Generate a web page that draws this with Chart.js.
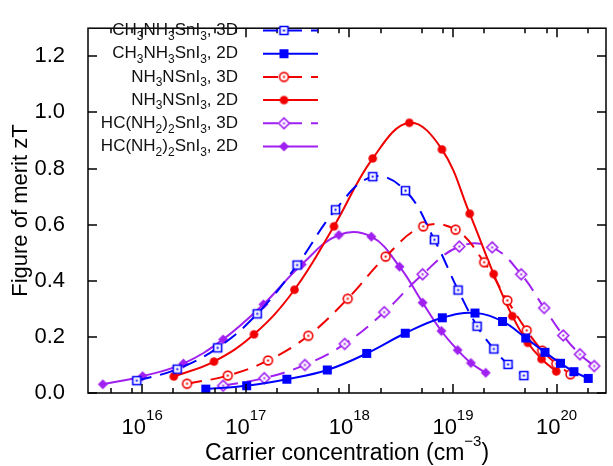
<!DOCTYPE html>
<html>
<head>
<meta charset="utf-8">
<title>zT vs carrier concentration</title>
<script src="https://cdn.jsdelivr.net/npm/chart.js@4.4.1/dist/chart.umd.min.js"></script>
<style>
    html, body { margin: 0; padding: 0; background: #fff; }
    #ztChart { display: block; }
</style>
</head>
<body>
<canvas id="ztChart" width="613" height="466"></canvas>
<script>
// carrier concentration (cm^-3) and zT, one pair of arrays per compound / dimensionality
const maCarrier3D = [8.87e15, 2.18e16, 5.35e16, 1.29e17, 3.13e17, 7.35e17, 1.68e18, 3.48e18, 6.62e18, 1.12e19, 1.71e19, 2.48e19, 3.40e19, 4.83e19];
const maZT3D = [0.044, 0.085, 0.161, 0.282, 0.456, 0.653, 0.771, 0.721, 0.546, 0.367, 0.238, 0.157, 0.102, 0.062];

const maCarrier2D = [4.11e16, 1.02e17, 2.49e17, 6.12e17, 1.47e18, 3.46e18, 7.89e18, 1.63e19, 3.01e19, 5.04e19, 7.73e19, 1.09e20, 1.47e20, 2.02e20];
const maZT2D = [0.014, 0.026, 0.049, 0.082, 0.141, 0.213, 0.268, 0.285, 0.255, 0.196, 0.145, 0.106, 0.076, 0.052];

const nnCarrier3D = [2.71e16, 6.70e16, 1.64e17, 4.01e17, 9.64e17, 2.24e18, 5.16e18, 1.06e19, 2.00e19, 3.35e19, 5.15e19, 7.26e19, 9.93e19, 1.36e20];
const nnZT3D = [0.033, 0.062, 0.116, 0.204, 0.336, 0.486, 0.594, 0.582, 0.466, 0.330, 0.223, 0.151, 0.104, 0.067];

const nnCarrier2D = [2.02e16, 4.93e16, 1.20e17, 2.95e17, 7.10e17, 1.68e18, 3.79e18, 7.82e18, 1.45e19, 2.47e19, 3.74e19, 5.28e19, 7.16e19, 9.93e19];
const nnZT2D = [0.059, 0.112, 0.209, 0.368, 0.594, 0.836, 0.963, 0.868, 0.639, 0.424, 0.274, 0.179, 0.121, 0.077];

const faCarrier3D = [6.04e16, 1.51e17, 3.72e17, 9.02e17, 2.17e18, 5.09e18, 1.15e19, 2.39e19, 4.55e19, 7.59e19, 1.16e20, 1.68e20, 2.31e20];
const faZT3D = [0.026, 0.053, 0.100, 0.175, 0.288, 0.423, 0.522, 0.519, 0.423, 0.303, 0.205, 0.138, 0.096];

const faCarrier2D = [4.17e15, 1.01e16, 2.50e16, 6.04e16, 1.48e17, 3.47e17, 7.91e17, 1.63e18, 3.05e18, 5.09e18, 7.73e18, 1.11e19, 1.49e19, 2.07e19];
const faZT2D = [0.031, 0.060, 0.105, 0.191, 0.316, 0.458, 0.563, 0.557, 0.450, 0.322, 0.221, 0.153, 0.107, 0.072];

// legend text, "_x" marks a subscript character
const seriesLabels = [
    'CH_3NH_3SnI_3, 3D',
    'CH_3NH_3SnI_3, 2D',
    'NH_3NSnI_3, 3D',
    'NH_3NSnI_3, 2D',
    'HC(NH_2)_2SnI_3, 3D',
    'HC(NH_2)_2SnI_3, 2D'
];

// axis ticks
const xTickExponents = [15, 16, 17, 18, 19, 20];
const xMinorMantissas = [2, 5, 8];
const yTickValues = [0, 0.2, 0.4, 0.6, 0.8, 1.0, 1.2];

const BLUE = '#0000ff';
const RED = '#f00000';
const PURPLE = '#a020f0';
const FONT = '"Liberation Sans", Arial, sans-serif';

// small canvases used as point markers (open ones get a white face and a centre dot)
function marker(shape, color, open) {
    const s = 15;
    const c = document.createElement('canvas');
    c.width = s;
    c.height = s;
    const g = c.getContext('2d');
    const m = s / 2;
    g.beginPath();
    if (shape === 'square') {
        const h = open ? 4 : 4.5;
        g.rect(m - h, m - h, 2 * h, 2 * h);
    } else if (shape === 'circle') {
        g.arc(m, m, open ? 4.4 : 4.3, 0, Math.PI * 2);
    } else {
        const h = open ? 5.4 : 5;
        g.moveTo(m, m - h);
        g.lineTo(m + h, m);
        g.lineTo(m, m + h);
        g.lineTo(m - h, m);
        g.closePath();
    }
    if (open) {
        g.fillStyle = '#fff';
        g.fill();
        g.strokeStyle = color;
        g.lineWidth = 1.6;
        g.stroke();
        g.fillStyle = color;
        g.fillRect(m - 1, m - 1, 2, 2);
    } else {
        g.fillStyle = color;
        g.fill();
    }
    return c;
}

function points(xs, ys) {
    return xs.map((x, i) => ({ x: x, y: ys[i] }));
}

function series(label, xs, ys, color, shape, dashed) {
    return {
        label: label,
        data: points(xs, ys),
        borderColor: color,
        backgroundColor: color,
        borderWidth: 2,
        borderDash: dashed ? [15, 9] : [],
        tension: 0.4,
        pointStyle: marker(shape, color, dashed),
        pointRadius: 5,
        fill: false
    };
}

const datasets = [
    series(seriesLabels[0], maCarrier3D, maZT3D, BLUE, 'square', true),
    series(seriesLabels[1], maCarrier2D, maZT2D, BLUE, 'square', false),
    series(seriesLabels[2], nnCarrier3D, nnZT3D, RED, 'circle', true),
    series(seriesLabels[3], nnCarrier2D, nnZT2D, RED, 'circle', false),
    series(seriesLabels[4], faCarrier3D, faZT3D, PURPLE, 'diamond', true),
    series(seriesLabels[5], faCarrier2D, faZT2D, PURPLE, 'diamond', false)
];

// text with "_x" subscripts, right-aligned at xRight
function drawSubText(ctx, text, xRight, y, size) {
    const parts = [];
    for (let i = 0; i < text.length; i++) {
        if (text[i] === '_' && i + 1 < text.length) {
            parts.push({ t: text[i + 1], sub: true });
            i++;
        } else {
            const last = parts[parts.length - 1];
            if (last && !last.sub) last.t += text[i];
            else parts.push({ t: text[i], sub: false });
        }
    }
    const big = size + 'px ' + FONT;
    const small = Math.round(size * 0.7) + 'px ' + FONT;
    let total = 0;
    parts.forEach(p => {
        ctx.font = p.sub ? small : big;
        p.w = ctx.measureText(p.t).width;
        total += p.w;
    });
    let cx = xRight - total;
    ctx.textAlign = 'left';
    ctx.textBaseline = 'middle';
    parts.forEach(p => {
        ctx.font = p.sub ? small : big;
        ctx.fillText(p.t, cx, p.sub ? y + 6 : y);
        cx += p.w;
    });
}

// frame, inward ticks, x tick labels, axis titles and the key
const decorations = {
    id: 'decorations',
    afterDatasetsDraw(chart) {
        const ctx = chart.ctx;
        const a = chart.chartArea;
        const xs = chart.scales.x;
        const ys = chart.scales.y;
        ctx.save();
        ctx.fillStyle = '#000';
        ctx.strokeStyle = '#000';
        ctx.lineWidth = 1.5;

        ctx.beginPath();
        xTickExponents.forEach(e => {
            [1].concat(xMinorMantissas).forEach(m => {
                const v = m * Math.pow(10, e);
                if (v < xs.min || v > xs.max) return;
                const px = Math.round(xs.getPixelForValue(v));
                const len = m === 1 ? 9 : 5;
                ctx.moveTo(px, a.bottom);
                ctx.lineTo(px, a.bottom - len);
                ctx.moveTo(px, a.top);
                ctx.lineTo(px, a.top + len);
            });
        });
        yTickValues.forEach(v => {
            const py = Math.round(ys.getPixelForValue(v));
            ctx.moveTo(a.left, py);
            ctx.lineTo(a.left + 9, py);
            ctx.moveTo(a.right, py);
            ctx.lineTo(a.right - 9, py);
        });
        ctx.stroke();
        ctx.strokeRect(a.left, a.top, a.right - a.left, a.bottom - a.top);

        // 10^n labels under the major ticks
        xTickExponents.forEach(e => {
            const v = Math.pow(10, e);
            if (v < xs.min || v > xs.max) return;
            const px = xs.getPixelForValue(v);
            ctx.font = '22px ' + FONT;
            const wBase = ctx.measureText('10').width;
            ctx.font = '15px ' + FONT;
            const wExp = ctx.measureText(String(e)).width;
            const x0 = px - (wBase + wExp) / 2;
            ctx.textAlign = 'left';
            ctx.textBaseline = 'alphabetic';
            ctx.font = '22px ' + FONT;
            ctx.fillText('10', x0, 434);
            ctx.font = '15px ' + FONT;
            ctx.fillText(String(e), x0 + wBase, 420);
        });

        // x title with superscript
        const tMain = 'Carrier concentration (cm';
        const tSup = '\u22123';
        ctx.font = '23px ' + FONT;
        const w1 = ctx.measureText(tMain).width;
        const w3 = ctx.measureText(')').width;
        ctx.font = '15px ' + FONT;
        const w2 = ctx.measureText(tSup).width;
        let tx = (a.left + a.right) / 2 - (w1 + w2 + w3) / 2;
        ctx.textBaseline = 'alphabetic';
        ctx.font = '23px ' + FONT;
        ctx.fillText(tMain, tx, 460);
        ctx.font = '15px ' + FONT;
        ctx.fillText(tSup, tx + w1, 446);
        ctx.font = '23px ' + FONT;
        ctx.fillText(')', tx + w1 + w2, 460);

        // y title
        ctx.save();
        ctx.translate(21, (a.top + a.bottom) / 2);
        ctx.rotate(-Math.PI / 2);
        ctx.textAlign = 'center';
        ctx.textBaseline = 'middle';
        ctx.font = '22px ' + FONT;
        ctx.fillText('Figure of merit zT', 0, 0);
        ctx.restore();

        // key
        chart.data.datasets.forEach((ds, i) => {
            const y = 30.5 + i * 23.2;
            ctx.fillStyle = '#111';
            drawSubText(ctx, ds.label, 238, y, 17);
            ctx.strokeStyle = ds.borderColor;
            ctx.lineWidth = 2;
            ctx.setLineDash(ds.borderDash);
            ctx.beginPath();
            ctx.moveTo(263, y);
            ctx.lineTo(318, y);
            ctx.stroke();
            ctx.setLineDash([]);
            const img = ds.pointStyle;
            ctx.drawImage(img, 284 - img.width / 2, y - img.height / 2);
        });
        ctx.restore();
    }
};

new Chart(document.getElementById('ztChart'), {
    type: 'line',
    data: { datasets: datasets },
    options: {
        responsive: false,
        animation: false,
        layout: { padding: { top: 10, right: 1, left: 0, bottom: 0 } },
        plugins: {
            legend: { display: false },
            tooltip: { enabled: false }
        },
        scales: {
            x: {
                type: 'logarithmic',
                min: 3e15,
                max: 3e20,
                grid: { display: false },
                border: { display: false },
                ticks: { display: false },
                afterFit: (scale) => { scale.height = 73; }
            },
            y: {
                min: 0,
                max: 1.3,
                grid: { display: false },
                border: { display: false },
                ticks: {
                    stepSize: 0.2,
                    includeBounds: false,
                    padding: 15,
                    color: '#000',
                    font: { family: FONT, size: 22 },
                    callback: (v) => Number(v).toFixed(1)
                },
                afterFit: (scale) => { scale.width = 88; }
            }
        }
    },
    plugins: [decorations]
});
</script>
</body>
</html>
